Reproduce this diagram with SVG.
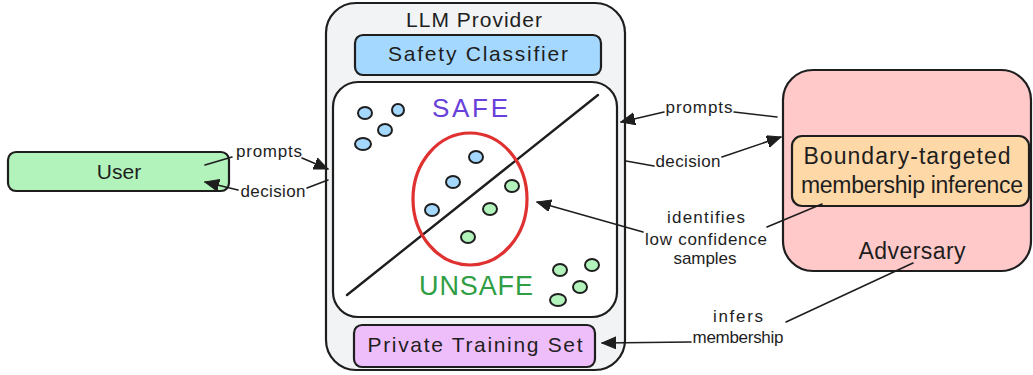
<svg xmlns="http://www.w3.org/2000/svg" width="1033" height="375" viewBox="0 0 1033 375">
<defs>
<marker id="ah" markerUnits="userSpaceOnUse" markerWidth="16" markerHeight="14" refX="14" refY="6" orient="auto">
<path d="M0,0 L14,6 L0,12 Z" fill="#1e1e1e" stroke="#1e1e1e" stroke-width="1" stroke-linejoin="round"/>
</marker>
<style>
.box{stroke:#1e1e1e;stroke-width:2.2}
.t{font-family:"Liberation Sans","DejaVu Sans",sans-serif;fill:#1e1e1e;text-anchor:middle}
.s{font-size:17px}
.conn path{fill:none;stroke:#1e1e1e;stroke-width:1.6;stroke-linecap:round}
.dot{stroke:#1e1e1e;stroke-width:2}
.b{fill:#a5d8ff}
.g{fill:#b2f2bb}
</style>
</defs>
<rect width="1033" height="375" fill="#ffffff"/>

<g id="user">
<rect class="box" x="8" y="152" width="221" height="39" rx="8" fill="#b2f2bb"/>
<text class="t" x="119" y="179" font-size="21">User</text>
</g>

<g id="llm-provider">
<rect class="box" x="326" y="3" width="299" height="367" rx="30" fill="#f1f3f5"/>
<text class="t" x="474" y="27" font-size="21" textLength="136">LLM Provider</text>
</g>

<g id="safety-classifier">
<rect class="box" x="355" y="35" width="246" height="40" rx="8" fill="#a5d8ff"/>
<text class="t" x="478" y="61" font-size="21" textLength="180">Safety Classifier</text>
</g>

<g id="decision-space">
<rect class="box" x="333" y="82" width="284" height="235" rx="25" fill="#ffffff"/>
<line x1="347" y1="295" x2="598" y2="95" stroke="#1e1e1e" stroke-width="2.4" stroke-linecap="round"/>
<text class="t" x="470" y="117" font-size="26" textLength="76" style="fill:#6741d9">SAFE</text>
<text class="t" x="476" y="295" font-size="27" textLength="114" style="fill:#2f9e44">UNSAFE</text>
<ellipse cx="470" cy="199" rx="57" ry="66" fill="none" stroke="#e03131" stroke-width="3.2"/>
<ellipse class="dot b" cx="365" cy="113" rx="7" ry="6"/>
<ellipse class="dot b" cx="398" cy="110" rx="6" ry="6"/>
<ellipse class="dot b" cx="385" cy="130" rx="7" ry="6"/>
<ellipse class="dot b" cx="363" cy="144" rx="8" ry="6"/>
<ellipse class="dot b" cx="476" cy="157" rx="7" ry="6"/>
<ellipse class="dot b" cx="453" cy="182" rx="7" ry="6"/>
<ellipse class="dot b" cx="432" cy="210" rx="7" ry="6"/>
<ellipse class="dot g" cx="512" cy="186" rx="7" ry="6"/>
<ellipse class="dot g" cx="490" cy="209" rx="7" ry="6"/>
<ellipse class="dot g" cx="468" cy="237" rx="7" ry="6"/>
<ellipse class="dot g" cx="560" cy="270" rx="7" ry="6"/>
<ellipse class="dot g" cx="592" cy="265" rx="7" ry="6"/>
<ellipse class="dot g" cx="580" cy="287" rx="7" ry="6"/>
<ellipse class="dot g" cx="558" cy="300" rx="8" ry="6"/>
</g>

<g id="private-training-set">
<rect class="box" x="354" y="325" width="241" height="42" rx="8" fill="#eebefa"/>
<text class="t" x="475" y="352" font-size="21" textLength="215">Private Training Set</text>
</g>

<g id="adversary">
<rect class="box" x="783" y="70" width="248" height="201" rx="30" fill="#ffc9c9"/>
<text class="t" x="912" y="259" font-size="23" textLength="107">Adversary</text>
</g>

<g id="boundary-mia">
<rect class="box" x="792" y="136" width="237" height="70" rx="10" fill="#ffd8a8"/>
<text class="t" x="907" y="164" font-size="23" textLength="207">Boundary-targeted</text>
<text class="t" x="912" y="193" font-size="23" textLength="222">membership inference</text>
</g>

<g id="connectors" class="conn">
<path d="M205,165 L232,157"/>
<path d="M302,158 L328,169" marker-end="url(#ah)"/>
<path d="M328,180 L307,188"/>
<path d="M238,190 L205,182" marker-end="url(#ah)"/>
<path d="M777,117 L734,112"/>
<path d="M664,112 L621,122" marker-end="url(#ah)"/>
<path d="M626,161 L654,166"/>
<path d="M722,157 L781,137" marker-end="url(#ah)"/>
<path d="M822,204 L767,227"/>
<path d="M643,232 L537,202" marker-end="url(#ah)"/>
<path d="M913,263 L786,322"/>
<path d="M691,342 L602,343" marker-end="url(#ah)"/>
</g>

<g id="labels">
<text class="t s" x="269" y="157" textLength="66">prompts</text>
<text class="t s" x="273" y="197" textLength="65">decision</text>
<text class="t s" x="699" y="113" textLength="67">prompts</text>
<text class="t s" x="688" y="167" textLength="65">decision</text>
<text class="t s" x="706" y="223" textLength="78">identifies</text>
<text class="t s" x="706" y="245" textLength="122">low confidence</text>
<text class="t s" x="705" y="264" textLength="63">samples</text>
<text class="t s" x="738" y="322" textLength="50">infers</text>
<text class="t s" x="738" y="343" textLength="91">membership</text>
</g>
</svg>
